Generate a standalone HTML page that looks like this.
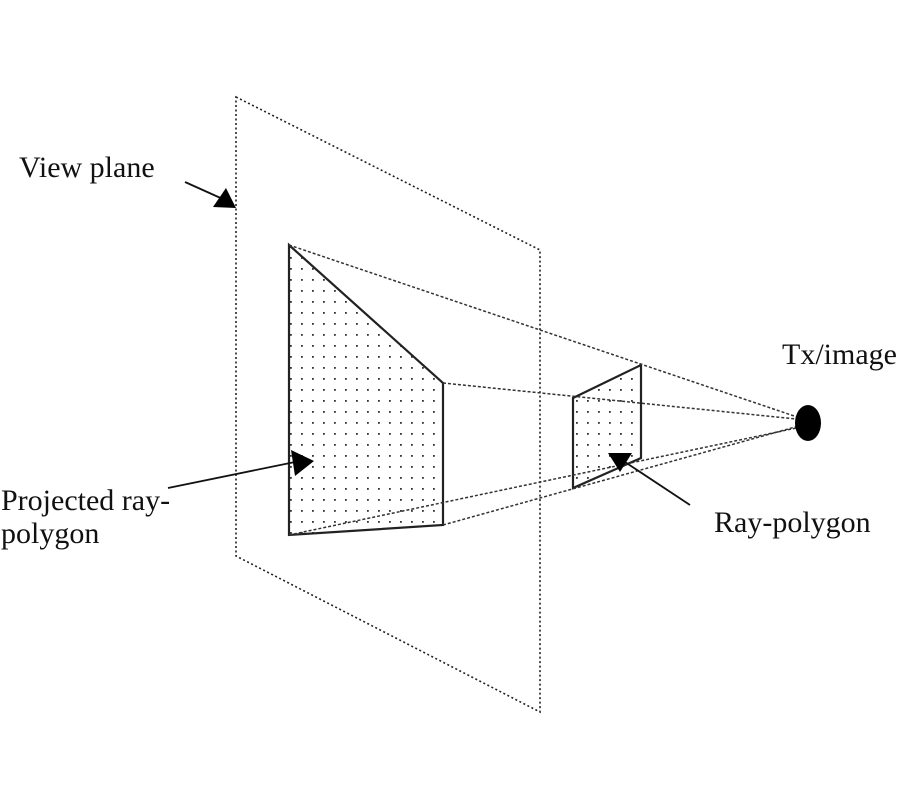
<!DOCTYPE html>
<html><head><style>body{margin:0;background:#fff}svg{display:block}</style></head><body>
<svg width="900" height="800" viewBox="0 0 900 800" xmlns="http://www.w3.org/2000/svg">
<defs><pattern id="d" width="11" height="11" patternUnits="userSpaceOnUse"><rect x="4" y="4" width="1.8" height="1.8" fill="#333"/></pattern></defs>
<g fill="none" stroke="#222" stroke-width="1.6" stroke-dasharray="2 2.5">
<polygon points="236,97 540,250 540,712 236,556"/>
</g>
<polygon points="289,245 443,383 443,525 289,535" fill="url(#d)" stroke="#222" stroke-width="2.2"/>
<polygon points="573,398 641,365 641,458 573,488" fill="url(#d)" stroke="#222" stroke-width="2.2"/>
<g fill="none" stroke="#333" stroke-width="1.5" stroke-dasharray="3 2">
<line x1="289" y1="245" x2="806" y2="420"/>
<line x1="443" y1="383" x2="806" y2="420"/>
<line x1="443" y1="525" x2="806" y2="424"/>
<line x1="289" y1="535" x2="806" y2="426"/>
</g>
<ellipse cx="808" cy="423" rx="13" ry="18" fill="#000"/>
<g stroke="#111" stroke-width="1.8">
<line x1="185" y1="182" x2="225" y2="200"/>
<line x1="168" y1="488" x2="295" y2="462"/>
<line x1="690" y1="505" x2="625" y2="462"/>
</g>
<polygon points="236,208 213,207 226,188" fill="#000"/>
<polygon points="314,461 291,450 295,476" fill="#000"/>
<polygon points="608,453 632,453 620,472" fill="#000"/>
<g font-family="Liberation Serif, serif" font-size="30" fill="#111">
<text x="19" y="177">View plane</text>
<text x="782" y="364">Tx/image</text>
<text x="1" y="510">Projected ray-</text>
<text x="1" y="543">polygon</text>
<text x="714" y="532">Ray-polygon</text>
</g>
</svg>
</body></html>
